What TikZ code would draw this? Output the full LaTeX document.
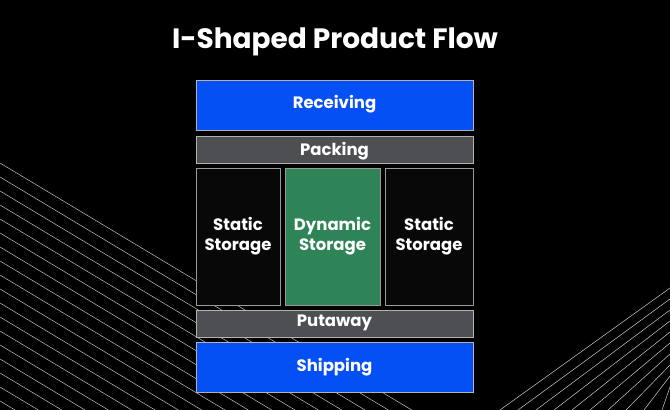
\documentclass[tikz,border=0pt]{standalone}
\usepackage{fontspec}
\setmainfont{Poppins}
\definecolor{bandblue}{HTML}{0550F5}
\definecolor{bandgray}{HTML}{4E4F53}
\definecolor{storegreen}{HTML}{2E8457}
\begin{document}
\begin{tikzpicture}[x=1pt,y=-1pt,
    bluebox/.style={draw=white!70!black,fill=bandblue},
    graybox/.style={draw=white!70!black,fill=bandgray},
    storebox/.style={draw=white!60!black,fill=black!97},
    bgline/.style={white!80!black,line width=0.5pt},
    bandtext/.style={font=\bfseries\fontsize{16.5}{20}\selectfont,text=white,align=center}]
    \fill[black] (0,0) rectangle (670,410);
    \useasboundingbox (0,0) rectangle (670,410);
    % background lines
    \foreach \i in {0,...,17} {
        \draw[bgline] (0,163+14*\i) -- ({(410-163-14*\i)/0.6},410);
    }
    \foreach \i in {0,...,9} {
        \draw[bgline] (500+18*\i,410) -- (670,288+11*\i);
    }
    \node[font=\bfseries\fontsize{28}{34}\selectfont,text=white] (title) at (335,42) {I-Shaped Product Flow};
    % bands
    \draw[bluebox] (196,80) rectangle (473,130);
    \node[bandtext] (recv) at (334.5,104) {Receiving};
    \draw[graybox] (196,136) rectangle (473,163);
    \node[bandtext] (pack) at (334.5,151) {Packing};
    \draw[storebox] (196,168) rectangle (280,305);
    \node[bandtext] (statl) at (238,236) {Static\\Storage};
    \draw[draw=white!60!black,fill=storegreen] (285,168) rectangle (380,305);
    \node[bandtext] (dyn) at (332.5,236) {Dynamic\\Storage};
    \draw[storebox] (385,168) rectangle (473,305);
    \node[bandtext] (statr) at (429,236) {Static\\Storage};
    \draw[graybox] (196,310) rectangle (473,337);
    \node[bandtext] (put) at (334.5,323) {Putaway};
    \draw[bluebox] (196,342) rectangle (473,392);
    \node[bandtext] (ship) at (334.5,367) {Shipping};
\end{tikzpicture}
\end{document}
